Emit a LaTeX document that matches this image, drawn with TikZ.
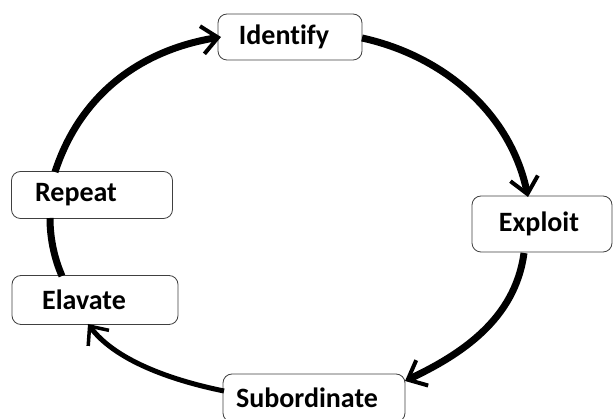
\documentclass[tikz,border=0pt]{standalone}
\usepackage{fontspec}
\setmainfont{Carlito}[Ligatures=NoCommon]
\usetikzlibrary{arrows.meta}
\newcommand{\moveleftby}[2]{\hspace*{-#1pt}#2}
\begin{document}
\begin{tikzpicture}[x=1pt,y=-1pt,
  stagebox/.style={draw=black!75, line width=0.8pt, rounded corners=9pt, fill=white, inner sep=0pt, font=\bfseries\fontsize{28}{30}\selectfont},
  flow/.style={line width=7pt, -{Straight Barb[length=16pt,width=28pt,line width=4pt]}},
  thinflow/.style={line width=5pt, -{Straight Barb[length=15pt,width=26pt,line width=3.5pt]}},
  plain/.style={line width=7pt}]
\useasboundingbox (0,0) rectangle (614,419);
\node[stagebox, minimum width=144pt, minimum height=46pt] (identify) at (290,37) {\moveleftby{12}{Identify}};
\node[stagebox, minimum width=140pt, minimum height=56pt] (exploit) at (542,224) {\moveleftby{6}{Exploit}};
\node[stagebox, minimum width=182pt, minimum height=48pt] (subord) at (314,398) {\moveleftby{14}{Subordinate}};
\node[stagebox, minimum width=161pt, minimum height=47pt] (repeat) at (92,195) {\moveleftby{32}{Repeat}};
\node[stagebox, minimum width=166pt, minimum height=49pt] (elavate) at (95,300) {\moveleftby{22}{Elavate}};
\coordinate (a1s) at (55,172);
\coordinate (a1e) at (221,37);
\draw[flow] (a1s) .. controls (80,95) and (140,50) .. (a1e);
\coordinate (a2s) at (362,38);
\coordinate (a2e) at (528,197);
\draw[flow] (a2s) .. controls (440,55) and (510,110) .. (a2e);
\coordinate (a3s) at (524,253);
\coordinate (a3e) at (405,381);
\draw[flow] (a3s) .. controls (515,320) and (460,355) .. (a3e);
\coordinate (a4s) at (224,391);
\coordinate (a4e) at (88,324);
\draw[thinflow] (a4s) .. controls (170,380) and (115,360) .. (a4e);
\coordinate (l1s) at (50,218);
\coordinate (l1e) at (62,276);
\draw[plain] (l1s) .. controls (50,240) and (55,260) .. (l1e);
\end{tikzpicture}
\end{document}
